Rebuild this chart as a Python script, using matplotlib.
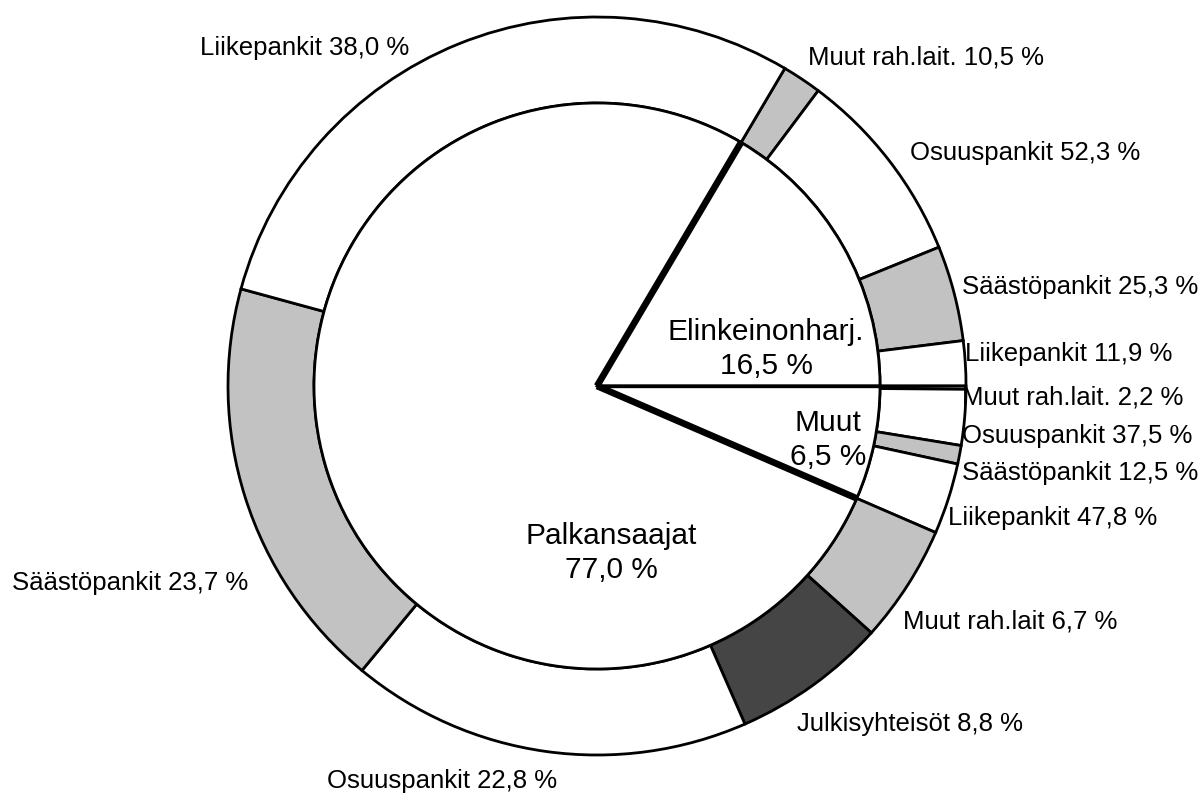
import numpy as np
import matplotlib
matplotlib.use('Agg')
import matplotlib.pyplot as plt

plt.rcParams['font.family'] = ['Liberation Sans', 'DejaVu Sans']

# Inner pie: sector shares (%)
sectors = ['Elinkeinonharj.', 'Muut', 'Palkansaajat']
sector_share = [16.5, 6.5, 77.0]

# Outer ring: lenders within each sector (% of sector), clockwise order
elink_names = ['Muut rah.lait.', 'Osuuspankit', 'Säästöpankit', 'Liikepankit']
elink_share = [10.5, 52.3, 25.3, 11.9]
muut_names = ['Muut rah.lait.', 'Osuuspankit', 'Säästöpankit', 'Liikepankit']
muut_share = [2.2, 37.5, 12.5, 47.8]
palk_names = ['Muut rah.lait', 'Julkisyhteisöt', 'Osuuspankit', 'Säästöpankit', 'Liikepankit']
palk_share = [6.7, 8.8, 22.8, 23.7, 38.0]

W, H = 1201, 793
CX, CY = 597, 386          # pie centre in pixel coords (y down)
R_OUT, R_IN = 369, 283

fill = {'Osuuspankit': 'white', 'Liikepankit': 'white',
        'Säästöpankit': '#c2c2c2', 'Muut rah.lait.': '#c2c2c2',
        'Muut rah.lait': '#c2c2c2', 'Julkisyhteisöt': '#454545'}

# label anchors (left x, baseline y) in pixels, same order as the ring
ring_label_pos = [(808, 64), (910, 160), (962, 294), (965, 361),
                  (962, 405), (962, 443), (962, 480), (948, 525),
                  (903, 628), (797, 731), (327, 788), (12, 590), (200, 55)]
sector_label_pos = [(766, 349), (828, 440), (611, 553)]


def fmt(v):
    return f"{v:.1f}".replace('.', ',') + ' %'


fig = plt.figure(figsize=(W / 100, H / 100), dpi=100)
ax = fig.add_axes([0, 0, 1, 1])

center = (CX, H - CY)
start = 360 * sector_share[0] / 100

# outer ring
groups = [(elink_names, elink_share), (muut_names, muut_share), (palk_names, palk_share)]
ring_names, ring_vals = [], []
for (names, shares), s in zip(groups, sector_share):
    ring_names += names
    ring_vals += [s * v / 100 for v in shares]
ring_pct = elink_share + muut_share + palk_share

ax.pie(ring_vals, radius=R_OUT, center=center, startangle=start, counterclock=False,
       colors=[fill[n] for n in ring_names],
       wedgeprops=dict(width=R_OUT - R_IN, edgecolor='black', linewidth=2.0))

# inner pie
ax.pie(sector_share, radius=R_IN, center=center, startangle=start, counterclock=False,
       colors=['white'] * 3, wedgeprops=dict(edgecolor='black', linewidth=2.0))

# sector boundaries: heavier radial lines
bounds = start - 360 * np.cumsum([0] + sector_share[:-1]) / 100
widths = [4.8, 2.4, 4.8]
for ang, lw in zip(bounds, widths):
    a = np.deg2rad(ang)
    ax.plot([center[0], center[0] + R_IN * np.cos(a)],
            [center[1], center[1] + R_IN * np.sin(a)],
            color='black', lw=lw, solid_capstyle='butt')

# ring labels
for name, pct, (x, y) in zip(ring_names, ring_pct, ring_label_pos):
    ax.text(x, H - y, f"{name} {fmt(pct)}", fontsize=18.5, ha='left', va='baseline')

# sector labels
for name, pct, (x, y) in zip(sectors, sector_share, sector_label_pos):
    ax.text(x, H - y, f"{name}\n{fmt(pct)}", fontsize=21.5, ha='center', va='center',
            linespacing=1.3)

ax.set_xlim(0, W)
ax.set_ylim(0, H)
ax.set_aspect('equal')
ax.axis('off')

fig.savefig('out.png', dpi=100, facecolor='white')
